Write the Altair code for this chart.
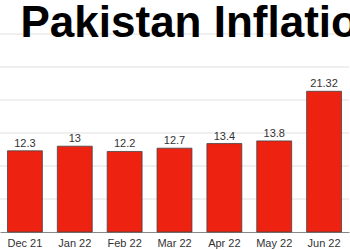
import altair as alt
import pandas as pd

months = ["Dec 21", "Jan 22", "Feb 22", "Mar 22", "Apr 22", "May 22", "Jun 22"]
values = [12.3, 13, 12.2, 12.7, 13.4, 13.8, 21.32]
labels = ["12.3", "13", "12.2", "12.7", "13.4", "13.8", "21.32"]
grid_values = [5, 10, 15, 20, 25, 30]

df = pd.DataFrame({"month": months, "value": values, "label": labels})
gdf = pd.DataFrame({"g": grid_values})

yscale = alt.Scale(domain=[0, 30], nice=False)

x = alt.X("month:N", sort=months, title=None,
          scale=alt.Scale(paddingInner=0.3, paddingOuter=0.15),
          axis=alt.Axis(labelAngle=0, labelFont="Liberation Sans", labelFontSize=11,
                        labelColor="#333333", ticks=False, labelPadding=5,
                        domainColor="#888888", grid=False))
y = alt.Y("value:Q", title=None, scale=yscale, axis=None)

grid = alt.Chart(gdf).mark_rule(color="#e0e0e0", strokeWidth=1).encode(
    y=alt.Y("g:Q", scale=yscale, axis=None))
bars = alt.Chart(df).mark_bar(color="#ee2211", stroke="#444444", strokeWidth=0.8).encode(x=x, y=y)
text = alt.Chart(df).mark_text(dy=-7, font="Liberation Sans", fontSize=11, color="#333333").encode(
    x=alt.X("month:N", sort=months), y="value:Q", text="label:N")

chart = (grid + bars + text).properties(
    width=349, height=198,
    title=alt.TitleParams("Pakistan Inflation", anchor="start", font="Liberation Sans",
                          fontSize=44, fontWeight="bold", color="#000000", dx=21, offset=-12),
    autosize=alt.AutoSizeParams(type="none"),
    padding={"left": 0, "top": 34, "right": 1, "bottom": 18},
).configure_view(stroke=None)

chart.save("out.html", embed_options={"renderer": "svg", "actions": False})
